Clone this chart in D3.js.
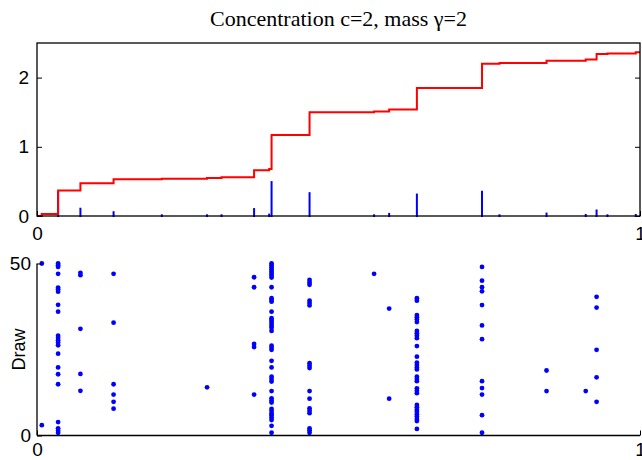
<!DOCTYPE html>
<html><head><meta charset="utf-8">
<script src="https://cdn.jsdelivr.net/npm/d3@7"></script>
<style>body{margin:0;background:#fff}svg{display:block}</style>
</head><body>
<script>
// ---- data ----
const titleText = "Concentration c=2, mass \u03b3=2";
const atomPos    = [0.008, 0.035, 0.072, 0.127, 0.207, 0.282, 0.306, 0.360, 0.385, 0.389, 0.452, 0.559, 0.584, 0.630, 0.738, 0.767, 0.845, 0.910, 0.928, 0.946, 0.993];
const atomWeight = [0.03, 0.34, 0.105, 0.055, 0.01, 0.01, 0.01, 0.10, 0.02, 0.49, 0.33, 0.01, 0.03, 0.31, 0.35, 0.01, 0.035, 0.015, 0.08, 0.01, 0.015];
const topYTicks = [0, 1, 2];
const xTicks = [0, 1];
const bottomYTicks = [0, 50];
const columnPos = [0.008, 0.035, 0.072, 0.127, 0.282, 0.360, 0.389, 0.452, 0.559, 0.584, 0.630, 0.738, 0.845, 0.910, 0.928];
const columnDraws = [
  [50, 3],
  [50, 49.5, 49, 47, 43, 42.5, 41.8, 38, 36, 29, 28.4, 27.7, 27, 26.2, 23.8, 19.8, 17.8, 14.9, 3.9, 2.1, 1.4, 0.8],
  [47.3, 46.6, 31, 17.9, 13],
  [47, 32.8, 14.9, 11.9, 9.8, 7.8],
  [14],
  [46, 43.1, 26.6, 25.7, 11.9],
  [50, 49.5, 48.9, 48.3, 47.7, 47.1, 46.5, 45.9, 43.1, 39.9, 39.4, 38.9, 36, 34.1, 33.6, 33, 32.4, 31.8, 31.3, 30.4, 26.1, 25.5, 24.9, 21.7, 19.8, 17.1, 16.4, 15.7, 12.9, 10.8, 10.2, 9.6, 7.7, 7.1, 6.4, 5.9, 5.2, 4.5, 2.8, 0.8],
  [45.2, 44.5, 43.8, 39.2, 38.5, 37.8, 21, 20.3, 19.6, 12.9, 10.7, 7.9, 7.2, 6.5, 2.1, 1.5, 0.8],
  [47],
  [36.9, 10.7],
  [39.9, 39.2, 35, 34.4, 33.7, 33, 30.4, 29.7, 29, 28.3, 26, 22.9, 21.2, 20.5, 19.8, 19.2, 17.1, 16.4, 15.8, 13.7, 13, 12.3, 8.9, 8.2, 7.5, 6.9, 6.2, 5.5, 4.8, 4.2, 1.9],
  [49, 45, 43.1, 41.9, 37.9, 32, 28, 15.8, 13.8, 11.9, 5.9, 0.8],
  [18.9, 12.9],
  [12.9],
  [40.3, 37.2, 24.9, 16.9, 9.8]
];

// ---- layout ----
const W = 642, H = 460;
const L = 37, R = 640;
const topT = 43, topB = 216;
const botT = 263.5, botB = 435.5;
const labelFont = "'Liberation Sans', Arial, Helvetica, sans-serif";

const svg = d3.select("body").append("svg").attr("width", W).attr("height", H);

svg.append("text").attr("x", (L + R) / 2).attr("y", 26).attr("text-anchor", "middle")
  .attr("font-family", "'Liberation Serif', 'Times New Roman', Times, serif")
  .attr("font-size", 22).attr("fill", "#000").text(titleText);

// ---- top panel ----
const xT = d3.scaleLinear().domain([0, 1]).range([L, R]);
const yT = d3.scaleLinear().domain([0, 2.5]).range([topB, topT]);

// cumulative measure
let cum = 0;
const stepData = [{x: 0, y: 0}];
atomPos.forEach((p, i) => { cum += atomWeight[i]; stepData.push({x: p, y: cum}); });
stepData.push({x: 1, y: cum});

const gTop = svg.append("g");
gTop.selectAll("line.stem").data(atomPos).join("line").attr("class", "stem")
  .attr("x1", d => xT(d)).attr("x2", d => xT(d))
  .attr("y1", yT(0)).attr("y2", (d, i) => yT(atomWeight[i]))
  .attr("stroke", "#0000ff").attr("stroke-width", 2).attr("stroke-linecap", "square");

gTop.append("path").datum(stepData)
  .attr("d", d3.line().x(d => xT(d.x)).y(d => yT(d.y)).curve(d3.curveStepAfter))
  .attr("fill", "none").attr("stroke", "#ff0000").attr("stroke-width", 2);

function styleAxis(g, fs) {
  g.select(".domain").remove();
  g.selectAll(".tick line").attr("stroke", "#000").attr("stroke-width", 1);
  g.selectAll(".tick text").attr("font-family", labelFont).attr("font-size", fs).attr("fill", "#000");
}

const axLT = svg.append("g").attr("transform", `translate(${L},0)`)
  .call(d3.axisLeft(yT).tickValues(topYTicks).tickSize(-5).tickPadding(8).tickFormat(d3.format("d")));
styleAxis(axLT, 19);
const axRT = svg.append("g").attr("transform", `translate(${R},0)`)
  .call(d3.axisRight(yT).tickValues(topYTicks).tickSize(-5).tickFormat(""));
styleAxis(axRT, 19);
const axBT = svg.append("g").attr("transform", `translate(0,${topB})`)
  .call(d3.axisBottom(xT).tickValues(xTicks).tickSize(-5).tickPadding(11).tickFormat(d3.format("d")));
styleAxis(axBT, 19);

svg.append("rect").attr("x", L).attr("y", topT).attr("width", R - L).attr("height", topB - topT)
  .attr("fill", "none").attr("stroke", "#000").attr("stroke-width", 1.3);

// ---- bottom panel ----
const yB = d3.scaleLinear().domain([0, 50]).range([botB, botT]);
const dots = [];
columnPos.forEach((p, i) => columnDraws[i].forEach(v => dots.push({x: p, y: v})));

svg.append("g").selectAll("circle").data(dots).join("circle")
  .attr("cx", d => xT(d.x)).attr("cy", d => yB(d.y)).attr("r", 2.4)
  .attr("fill", "#0000ff");

const axLB = svg.append("g").attr("transform", `translate(${L},0)`)
  .call(d3.axisLeft(yB).tickValues(bottomYTicks).tickSize(-5).tickPadding(6).tickFormat(d3.format("d")));
styleAxis(axLB, 19);
const axBB = svg.append("g").attr("transform", `translate(0,${botB})`)
  .call(d3.axisBottom(xT).tickValues(xTicks).tickSize(-5).tickPadding(7).tickFormat(d3.format("d")));
styleAxis(axBB, 19);

svg.append("line").attr("x1", L).attr("x2", L).attr("y1", botT).attr("y2", botB)
  .attr("stroke", "#000").attr("stroke-width", 1.3);
svg.append("line").attr("x1", L).attr("x2", R).attr("y1", botB).attr("y2", botB)
  .attr("stroke", "#000").attr("stroke-width", 1.3);

svg.append("text").attr("transform", `translate(25,${(botT + botB) / 2}) rotate(-90)`)
  .attr("text-anchor", "middle").attr("font-family", labelFont).attr("font-size", 18)
  .attr("fill", "#000").text("Draw");
</script>
</body></html>
